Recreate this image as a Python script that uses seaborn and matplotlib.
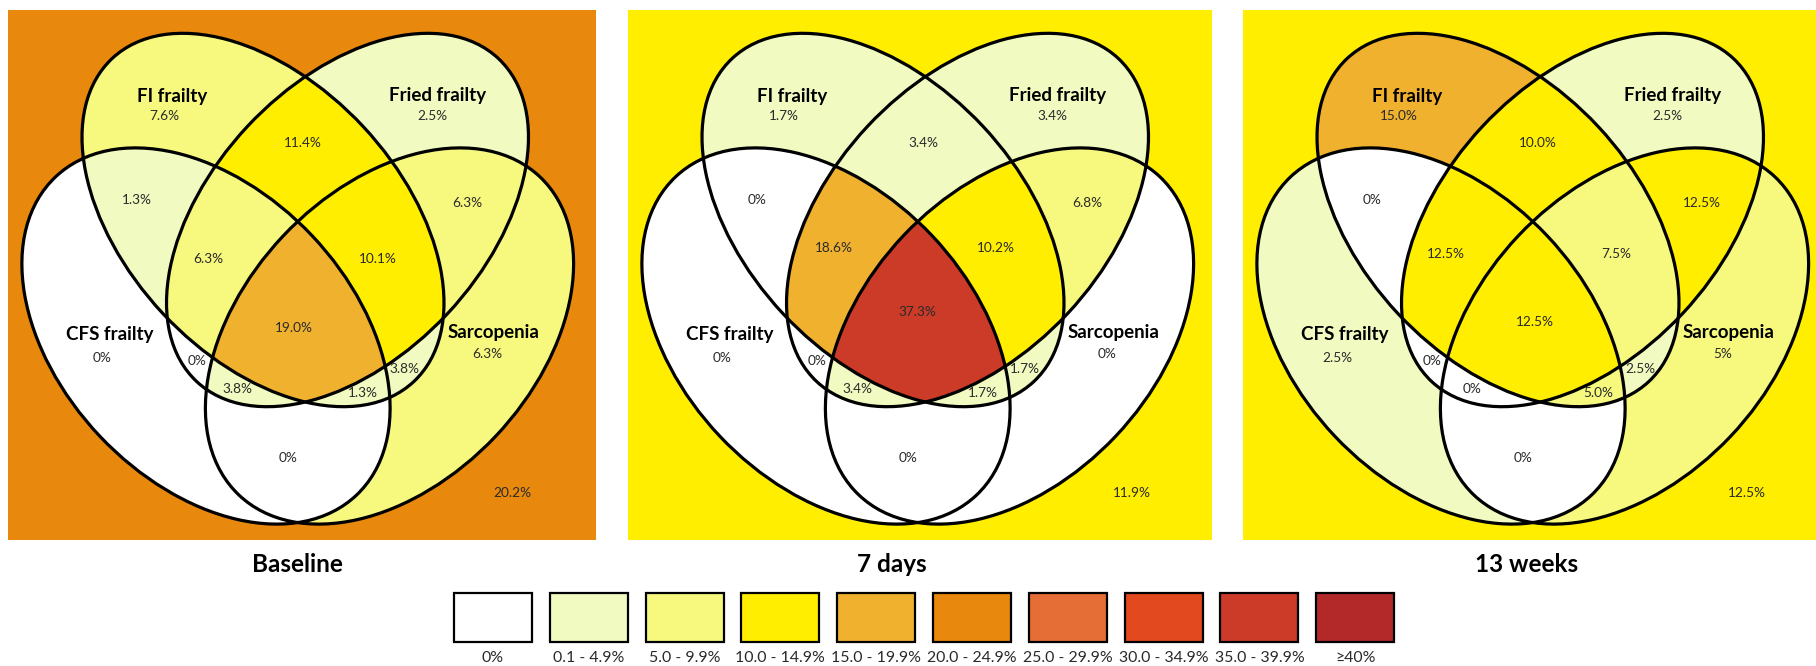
import numpy as np
import matplotlib
matplotlib.use("Agg")
import matplotlib.pyplot as plt
from matplotlib.patches import Ellipse, Rectangle
from matplotlib.colors import ListedColormap, BoundaryNorm
import seaborn as sns

sns.set_theme(style="white")
plt.rcParams["font.family"] = ["Lato", "DejaVu Sans"]

# ---- data ---------------------------------------------------------------
timepoints = ["Baseline", "7 days", "13 weeks"]
set_names = ["FI frailty", "Fried frailty", "CFS frailty", "Sarcopenia"]

# One entry per Venn region; region index = FI*1 + Fried*2 + CFS*4 + Sarcopenia*8
# (index 0 = in none of the four sets)
baseline_pct = ["20.2%", "7.6%", "2.5%", "11.4%", "0%", "1.3%", "0%", "6.3%",
                "6.3%", "3.8%", "6.3%", "10.1%", "0%", "1.3%", "3.8%", "19.0%"]
days7_pct = ["11.9%", "1.7%", "3.4%", "3.4%", "0%", "0%", "0%", "18.6%",
             "0%", "1.7%", "6.8%", "10.2%", "0%", "1.7%", "3.4%", "37.3%"]
weeks13_pct = ["12.5%", "15.0%", "2.5%", "10.0%", "2.5%", "0%", "0%", "12.5%",
               "5%", "2.5%", "12.5%", "7.5%", "0%", "5.0%", "0%", "12.5%"]
panel_pct = [baseline_pct, days7_pct, weeks13_pct]

band_labels = ["0%", "0.1 - 4.9%", "5.0 - 9.9%", "10.0 - 14.9%", "15.0 - 19.9%",
               "20.0 - 24.9%", "25.0 - 29.9%", "30.0 - 34.9%", "35.0 - 39.9%", "\u226540%"]
band_lower = [0.1, 5, 10, 15, 20, 25, 30, 35, 40]
band_colors = ["#FFFFFF", "#F1FAC0", "#F7F97E", "#FFEE00", "#F0B12F",
               "#E8890D", "#E56D36", "#E3491E", "#CC3B28", "#B3292A"]

# ---- layout (pixels) ----------------------------------------------------
FIG_W, FIG_H = 1816, 666
panel_x0 = [8, 628, 1243]
panel_w = [588, 584, 573]
panel_y0, panel_h = 10, 530
title_x = [297, 892, 1527]
title_y = 564

# ellipses in panel pixel coords: (cx, cy, semi-major, semi-minor, angle in deg, y down)
ellipses = [
    (255.0, 210.0, 221.0, 137.0, 47.0),    # FI frailty
    (339.5, 210.0, 221.0, 137.0, 133.0),   # Fried frailty
    (198.0, 326.0, 219.0, 146.0, 46.6),    # CFS frailty
    (381.5, 326.0, 219.0, 146.0, 133.4),   # Sarcopenia
]

# label anchors as fractions of a 588 x 530 panel
region_uv = [
    (0.857, 0.911), (0.265, 0.200), (0.721, 0.200), (0.502, 0.251),
    (0.160, 0.657), (0.219, 0.358), (0.321, 0.662), (0.340, 0.470),
    (0.815, 0.649), (0.675, 0.677), (0.781, 0.364), (0.629, 0.470),
    (0.476, 0.845), (0.604, 0.723), (0.390, 0.715), (0.487, 0.600),
]
# small per-panel nudges of the central labels: {region: (du, dv)}
label_nudge = [
    {},
    {7: (0.010, -0.020), 11: (-0.004, -0.020), 15: (0.005, -0.030)},
    {7: (0.005, -0.010), 11: (0.005, -0.010), 15: (0.010, -0.012)},
]
name_uv = [(0.279, 0.164), (0.730, 0.162), (0.173, 0.613), (0.825, 0.608)]


def band_index(v):
    return 0 if v <= 0 else int(np.searchsorted(band_lower, v, side="right"))


cmap = ListedColormap(sns.color_palette(band_colors))
norm = BoundaryNorm(np.arange(-0.5, len(band_colors) + 0.5), cmap.N)

fig = plt.figure(figsize=(FIG_W / 100, FIG_H / 100), dpi=100)
ax = fig.add_axes([0, 0, 1, 1])
ax.set_xlim(0, FIG_W)
ax.set_ylim(FIG_H, 0)
ax.axis("off")

for p, (x0, w) in enumerate(zip(panel_x0, panel_w)):
    labels = panel_pct[p]
    bands = np.array([band_index(float(s.rstrip("%"))) for s in labels])

    # region id of every pixel of the panel, from ellipse membership
    X, Y = np.meshgrid(np.arange(w) + 0.5, np.arange(panel_h) + 0.5)
    region = np.zeros(X.shape, dtype=int)
    for k, (cx, cy, a, b, ang) in enumerate(ellipses):
        t = np.deg2rad(ang)
        dx, dy = X - cx, Y - cy
        u = dx * np.cos(t) + dy * np.sin(t)
        v = -dx * np.sin(t) + dy * np.cos(t)
        region += ((u / a) ** 2 + (v / b) ** 2 <= 1).astype(int) << k

    ax.imshow(bands[region], cmap=cmap, norm=norm, interpolation="nearest",
              extent=(x0, x0 + w, panel_y0 + panel_h, panel_y0), zorder=1)

    for (cx, cy, a, b, ang) in ellipses:
        ax.add_patch(Ellipse((x0 + cx, panel_y0 + cy), 2 * a, 2 * b, angle=ang,
                             fill=False, edgecolor="black", lw=2.3, zorder=3))

    for r, (uu, vv) in enumerate(region_uv):
        du, dv = label_nudge[p].get(r, (0.0, 0.0))
        ax.text(x0 + (uu + du) * 588, panel_y0 + (vv + dv) * 530, labels[r],
                ha="center", va="center", fontsize=9.8, color="#2a2a2a", zorder=4)
    for name, (uu, vv) in zip(set_names, name_uv):
        ax.text(x0 + uu * 588, panel_y0 + vv * 530, name, ha="center", va="center",
                fontsize=13.5, fontweight="bold", color="black", zorder=4)

    ax.text(title_x[p], title_y, timepoints[p], ha="center", va="center",
            fontsize=17.5, fontweight="bold", color="black")

# colour key
key_x0, key_step, key_w, key_y0, key_h = 454, 95.8, 78, 593, 49
for k, (lab, col) in enumerate(zip(band_labels, band_colors)):
    kx = key_x0 + k * key_step
    ax.add_patch(Rectangle((kx, key_y0), key_w, key_h, facecolor=col,
                           edgecolor="black", lw=1.6, zorder=3))
    ax.text(kx + key_w / 2, 658, lab, ha="center", va="center",
            fontsize=11.4, color="#2a2a2a")

fig.savefig("out.png", dpi=100, facecolor="white")
